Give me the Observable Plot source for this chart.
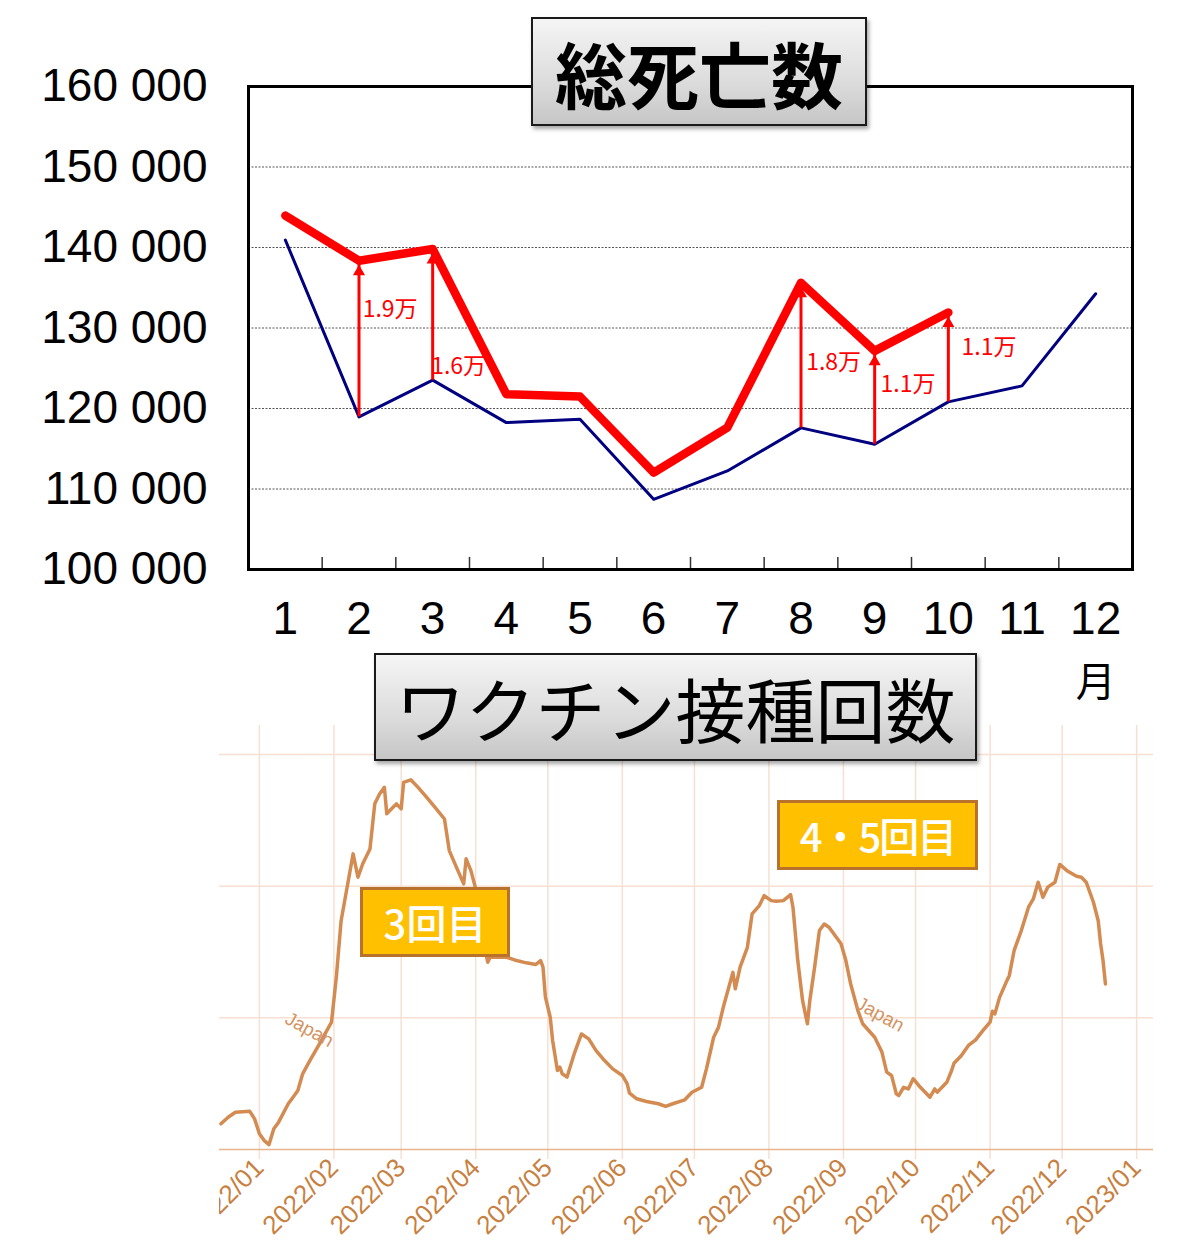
<!DOCTYPE html>
<html><head><meta charset="utf-8">
<script src="https://cdn.jsdelivr.net/npm/d3@7"></script>
<script src="https://cdn.jsdelivr.net/npm/@observablehq/plot@0.6"></script>
<style>
body{margin:0;background:#fff;}
#page{position:relative;width:1200px;height:1251px;overflow:hidden;background:#fff;}
#top{position:absolute;left:0;top:0;}
#bottom{position:absolute;left:219px;top:700px;width:934px;height:551px;overflow:hidden;}
.title{position:absolute;box-sizing:border-box;border:2px solid #1a1a1a;background:linear-gradient(#f5f5f5,#dcdcdc 60%,#c6c6c6);box-shadow:2px 3px 4px rgba(0,0,0,.35);display:flex;align-items:center;justify-content:center;color:#000;font-family:"Noto Sans CJK JP",sans-serif;white-space:nowrap;}
.tag{position:absolute;box-sizing:border-box;border:3px solid #b8722c;background:#ffc000;color:#fff;display:flex;align-items:center;justify-content:center;font-family:"Noto Sans CJK JP",sans-serif;font-size:40px;font-weight:500;white-space:nowrap;}
</style></head>
<body><div id="page">
<div id="top"></div>
<div id="bottom"></div>
<div class="title" style="left:531px;top:17px;width:336px;height:109px;font-size:72px;font-weight:600;">総死亡数</div>
<div class="title" style="left:374px;top:653px;width:603px;height:108px;font-size:70px;font-weight:400;">ワクチン接種回数</div>
<div class="tag" style="left:360px;top:887px;width:150px;height:70px;">3回目</div>
<div class="tag" style="left:777px;top:800px;width:201px;height:70px;letter-spacing:-2px;">4・5回目</div>
</div>
<script>
// ---- Top chart data: monthly total deaths ----
const months = [1,2,3,4,5,6,7,8,9,10,11,12];
const deaths2021 = [140930,118960,123520,118250,118670,108720,112240,117590,115560,120820,122810,134250];
const deaths2022 = [143960,138360,139810,121780,121480,112030,117620,135620,127160,131930];
const yTicks = [100000,110000,120000,130000,140000,150000,160000];
const diffMonths = [2,3,8,9,10];
const diffLabels = ["1.9万","1.6万","1.8万","1.1万","1.1万"];
const diffLabelX = [2.05,2.98,8.07,9.08,10.18];
const diffLabelY = [132264,125174,125672,122935,127537];

// ---- Bottom chart data: daily vaccine doses (thousands), day 0 = 2022-01-01 ----
const doseDay = [-16,-13,-10,-4,-2,0,2,4,6,8,12,14,16,18,21,25,30,32,34,37,39,41,43,46,48,50,52,53,55,57,59,60,63,66,69,73,77,79,82,85,86,88,90,92,95,96,103,107,111,115,117,118,119,121,122,124,125,126,128,131,134,137,140,143,147,151,153,154,157,161,166,169,172,177,180,184,186,189,191,193,197,198,200,203,205,208,210,213,215,218,221,222,224,226,228,229,231,233,235,237,242,244,246,249,251,256,259,261,263,265,266,268,270,272,275,279,281,282,286,288,289,292,295,298,301,304,305,306,308,311,312,314,317,320,322,324,326,328,331,333,336,340,342,344,347,349,350,351,352];
const doseK = [78,98,113,116,93,48,27,15,63,83,139,159,179,230,270,321,387,523,695,817,898,827,868,913,1050,1080,1100,1020,1035,1050,1035,1115,1123,1100,1075,1040,1004,908,857,807,883,847,792,680,569,584,584,574,567,562,574,554,463,402,331,240,250,230,220,291,351,336,301,275,245,225,200,171,154,146,139,131,139,151,174,189,245,341,371,432,538,488,554,613,716,741,771,756,754,756,774,736,574,452,382,452,554,665,685,675,625,574,503,422,382,341,296,235,225,169,164,189,184,215,189,159,184,174,204,240,262,285,316,333,361,387,420,412,463,513,528,604,665,736,761,812,766,797,812,866,847,830,827,812,751,695,625,574,503];
const monthLabels = ["2022/01","2022/02","2022/03","2022/04","2022/05","2022/06","2022/07","2022/08","2022/09","2022/10","2022/11","2022/12","2023/01"];
const gridK = [400,800,1200];
const japanDay = [20.8,258.2];
const japanK = [364,410];

// ---------- Top chart ----------
const rows2021 = months.map((m,i)=>({m, v:deaths2021[i]}));
const rows2022 = deaths2022.map((v,i)=>({m:months[i], v}));
const arrows = diffMonths.map(m=>({m, y1:deaths2021[m-1], y2:deaths2022[m-1]}));
const diffText = diffLabels.map((t,i)=>({x:diffLabelX[i], y:diffLabelY[i], t}));
const halfTicks = months.slice(0,-1).map(m=>m+0.5);

const topPlot = Plot.plot({
  width:1200, height:710,
  marginLeft:248, marginRight:68, marginTop:86, marginBottom:141,
  style:{fontFamily:"'Liberation Sans', Arial, sans-serif", fontSize:"46px", background:"transparent", color:"#000", overflow:"visible"},
  x:{domain:[0.5,12.5], ticks:months, tickSize:0, tickPadding:32, label:null},
  y:{domain:[100000,160000], ticks:yTicks, tickSize:0, tickPadding:41, label:null,
     tickFormat:d=>d3.format(",")(d).replace(/,/g," ")},
  marks:[
    Plot.ruleY(yTicks.slice(1,-1), {stroke:"#555", strokeWidth:1, strokeDasharray:"2,1.5"}),
    Plot.ruleX(halfTicks, {y1:100000, y2:101500, stroke:"#333", strokeWidth:1.5}),
    Plot.line(rows2021, {x:"m", y:"v", stroke:"#000080", strokeWidth:3}),
    Plot.ruleX(arrows, {x:"m", y1:"y1", y2:"y2", stroke:"#ff0000", strokeWidth:3}),
    Plot.dot(arrows, {x:"m", y:"y2", symbol:"triangle", r:4.5, fill:"#ff0000", stroke:"none", dy:11}),
    Plot.line(rows2022, {x:"m", y:"v", stroke:"#ff0000", strokeWidth:8.5, strokeLinejoin:"round", strokeLinecap:"round"}),
    Plot.text(diffText, {x:"x", y:"y", text:"t", fill:"#ff0000", fontSize:23, textAnchor:"start", fontFamily:"'Noto Sans CJK JP', sans-serif"}),
    Plot.text([{m:12, t:"月"}], {x:"m", text:"t", frameAnchor:"bottom", dy:126, fontSize:40, fontFamily:"'Noto Sans CJK JP', sans-serif", fill:"#000"}),
    Plot.frame({stroke:"#000", strokeWidth:3})
  ]
});
document.getElementById("top").appendChild(topPlot);

// ---------- Bottom chart ----------
const base = Date.UTC(2022,0,1);
const dayToDate = d => new Date(base + d*864e5);
const tickDates = monthLabels.map(s=>new Date(Date.UTC(+s.slice(0,4), +s.slice(5)-1, 1)));
const doseRows = doseDay.map((d,i)=>({date:dayToDate(d), k:doseK[i]}));
const japanRows = japanDay.map((d,i)=>({date:dayToDate(d), k:japanK[i]}));

const bottomPlot = Plot.plot({
  width:934, height:551,
  marginLeft:0, marginRight:0, marginTop:25, marginBottom:102,
  style:{fontFamily:"'Liberation Sans', Arial, sans-serif", fontSize:"26px", background:"transparent", color:"#c8803f", overflow:"visible"},
  x:{type:"utc", domain:[dayToDate(-16.6), dayToDate(372)], ticks:tickDates,
     tickFormat:d=>monthLabels[tickDates.findIndex(t=>+t===+d)],
     tickRotate:-45, tickSize:0, tickPadding:14, label:null},
  y:{domain:[0,1288], axis:null},
  marks:[
    Plot.ruleY(gridK, {stroke:"#f7e0d2", strokeWidth:1.5}),
    Plot.ruleX(tickDates, {y1:-30, y2:1288, stroke:"#f6e0d4", strokeWidth:1.5}),
    Plot.ruleY([0], {stroke:"#e8b48c", strokeWidth:1.5}),
    Plot.line(doseRows, {x:"date", y:"k", stroke:"#d38b51", strokeWidth:3.5, strokeLinejoin:"round", strokeLinecap:"round"}),
    Plot.text(japanRows, {x:"date", y:"k", text:()=>"Japan", rotate:29, fontSize:19, fill:"#d49464"})
  ]
});
document.getElementById("bottom").appendChild(bottomPlot);
</script>
</body></html>
